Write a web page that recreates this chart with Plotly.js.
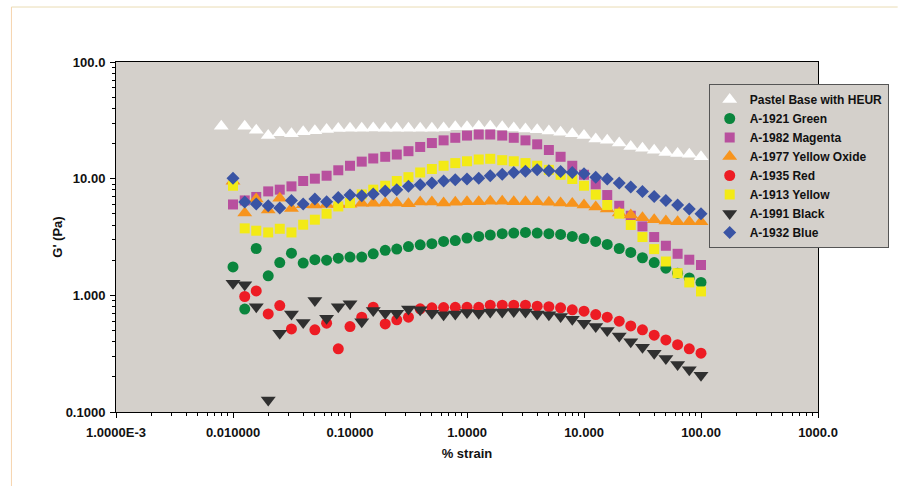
<!DOCTYPE html>
<html>
<head>
<meta charset="utf-8">
<script src="https://cdn.plot.ly/plotly-3.0.1.min.js"></script>
<style>
  html, body { margin: 0; padding: 0; background: #ffffff; }
  #chart { width: 901px; height: 486px; }
</style>
</head>
<body>
<div id="chart"></div>
<script>
// % strain values (log spaced, 10 per decade)
const strain = [0.01, 0.0126, 0.0158, 0.02, 0.0251, 0.0316, 0.0398, 0.0501, 0.0631, 0.0794,
  0.1, 0.126, 0.158, 0.2, 0.251, 0.316, 0.398, 0.501, 0.631, 0.794,
  1, 1.26, 1.58, 2, 2.51, 3.16, 3.98, 5.01, 6.31, 7.94,
  10, 12.6, 15.8, 20, 25.1, 31.6, 39.8, 50.1, 63.1, 79.4, 100];
const strainBase = [0.00794, 0.0126, 0.0158, 0.02, 0.0251, 0.0316, 0.0398, 0.0501, 0.0631, 0.0794,
  0.1, 0.126, 0.158, 0.2, 0.251, 0.316, 0.398, 0.501, 0.631, 0.794,
  1, 1.26, 1.58, 2, 2.51, 3.16, 3.98, 5.01, 6.31, 7.94,
  10, 12.6, 15.8, 20, 25.1, 31.6, 39.8, 50.1, 63.1, 79.4, 100];

const seriesNames = ["Pastel Base with HEUR", "A-1921 Green", "A-1982 Magenta", "A-1977 Yellow Oxide",
  "A-1935 Red", "A-1913 Yellow", "A-1991 Black", "A-1932 Blue"];

const pastelBase = [28.1, 28.1, 26.0, 23.4, 24.8, 24.3, 25.3, 25.8, 26.4, 26.9,
  27.0, 27.0, 27.2, 27.0, 27.0, 27.0, 27.0, 27.0, 27.2, 27.8,
  27.8, 28.1, 28.1, 27.8, 27.2, 26.7, 26.3, 25.6, 25.0, 24.3,
  23.4, 21.9, 21.3, 20.2, 18.9, 18.2, 17.5, 16.8, 16.4, 16.2, 15.4];
const green = [1.75, 0.762, 2.52, 1.47, 1.91, 2.30, 1.89, 2.02, 2.0, 2.08,
  2.13, 2.13, 2.27, 2.43, 2.49, 2.62, 2.71, 2.77, 2.9, 2.95,
  3.10, 3.2, 3.29, 3.38, 3.42, 3.46, 3.42, 3.38, 3.33, 3.2,
  3.07, 2.9, 2.73, 2.52, 2.33, 2.1, 1.91, 1.71, 1.55, 1.41, 1.29];
const magenta = [6.01, 6.51, 6.97, 7.78, 8.05, 8.59, 9.55, 10.0, 10.6, 11.8,
  12.9, 14.0, 14.9, 15.4, 16.1, 17.2, 18.7, 20.2, 21.3, 22.4,
  23.4, 23.9, 23.9, 23.4, 22.4, 21.3, 19.7, 17.6, 15.4, 12.9,
  10.8, 8.93, 7.24, 5.86, 4.81, 3.90, 3.16, 2.66, 2.27, 2.02, 1.82];
const yellowOxide = [9.5, 5.08, 6.7, 5.4, 6.8, 5.56, 5.98, 5.95, 6.0, 6.0,
  6.05, 6.15, 6.15, 6.2, 6.2, 6.1, 6.3, 6.3, 6.2, 6.28,
  6.35, 6.35, 6.4, 6.4, 6.35, 6.35, 6.35, 6.28, 6.2, 6.13,
  5.95, 5.71, 5.49, 5.08, 4.88, 4.63, 4.45, 4.33, 4.27, 4.27, 4.27];
const red = [null, 0.977, 1.09, 0.693, 0.817, 0.515, null, 0.506, 0.577, 0.348,
  0.540, 0.65, 0.792, 0.569, 0.617, 0.65, 0.766, 0.782, 0.785, 0.79,
  0.79, 0.79, 0.824, 0.824, 0.824, 0.824, 0.808, 0.80, 0.782, 0.752,
  0.731, 0.684, 0.65, 0.601, 0.547, 0.506, 0.455, 0.415, 0.378, 0.348, 0.319];
const yellow = [8.7, 3.75, 3.58, 3.46, 3.72, 3.46, 4.03, 4.45, 5.01, 5.78,
  6.18, 7.33, 8.05, 8.7, 9.55, 10.3, 11.3, 12.1, 12.9, 13.6,
  14.1, 14.6, 14.8, 14.4, 14.1, 13.6, 12.9, 11.9, 10.8, 9.93,
  8.7, 7.29, 5.95, 5.01, 4.01, 3.16, 2.49, 1.95, 1.55, 1.29, 1.08];
const black = [1.27, 1.23, 0.80, 0.127, 0.474, 0.693, 0.585, 0.902, 0.637, 0.80,
  0.846, 0.593, 0.740, 0.703, 0.703, 0.762, 0.752, 0.703, 0.68, 0.693,
  0.712, 0.703, 0.718, 0.718, 0.726, 0.718, 0.693, 0.68, 0.658, 0.625,
  0.577, 0.54, 0.499, 0.449, 0.401, 0.359, 0.319, 0.287, 0.255, 0.23, 0.207];
const blue = [10.1, 6.3, 6.07, 5.87, 5.6, 6.51, 6.07, 6.7, 6.35, 6.9,
  7.24, 7.14, 7.39, 7.84, 8.05, 8.59, 8.88, 9.18, 9.55, 9.8,
  9.93, 10.1, 10.6, 10.9, 11.3, 11.6, 11.9, 11.7, 11.5, 11.3,
  11.0, 10.3, 9.93, 9.18, 8.49, 7.78, 7.05, 6.51, 5.95, 5.49, 5.01];

const xTickVals = [0.001, 0.01, 0.1, 1, 10, 100, 1000];
const xTickText = ["1.0000E-3", "0.010000", "0.10000", "1.0000", "10.000", "100.00", "1000.0"];
const yTickVals = [0.1, 1, 10, 100];
const yTickText = ["0.1000", "1.000", "10.00", "100.0"];

function minorTicks(lo, hi) {
  const out = [];
  for (let e = lo; e < hi; e++) for (let m = 2; m <= 9; m++) out.push(m * Math.pow(10, e));
  return out;
}

const styles = [
  {x: strainBase, y: pastelBase, symbol: "triangle-up", color: "#ffffff", size: 13},
  {x: strain, y: green, symbol: "circle", color: "#0a853d", size: 11},
  {x: strain, y: magenta, symbol: "square", color: "#b8509e", size: 10},
  {x: strain, y: yellowOxide, symbol: "triangle-up", color: "#f7941d", size: 13},
  {x: strain, y: red, symbol: "circle", color: "#ed1c24", size: 11},
  {x: strain, y: yellow, symbol: "square", color: "#f3ea16", size: 10},
  {x: strain, y: black, symbol: "triangle-down", color: "#303030", size: 13},
  {x: strain, y: blue, symbol: "diamond", color: "#3a54a4", size: 10}
];

const traces = styles.map((s, i) => ({
  type: "scatter",
  mode: "markers",
  name: seriesNames[i],
  x: s.x,
  y: s.y,
  marker: {symbol: s.symbol, color: s.color, size: s.size, line: {width: 0}}
}));

const fontFam = "Liberation Sans, Arial, sans-serif";
const boldFont = {family: fontFam, size: 13, weight: "bold", color: "#111111"};
const legendFont = {family: fontFam, size: 12, weight: "bold", color: "#111111"};
const plotL = 116, plotR = 821, plotT = 62, plotB = 412;
const pw = plotR - plotL, ph = plotB - plotT;
const px = v => (v - plotL) / pw;
const py = v => (plotB - v) / ph;

const layout = {
  width: 901,
  height: 486,
  margin: {l: plotL, r: 901 - plotR, t: plotT, b: 486 - plotB, pad: 0},
  paper_bgcolor: "#ffffff",
  plot_bgcolor: "#d4d0cb",
  font: {family: fontFam, size: 13, color: "#111111"},
  showlegend: true,
  xaxis: {
    type: "log",
    range: [-3, 3],
    tickvals: xTickVals,
    ticktext: xTickText,
    ticks: "outside",
    ticklen: 5,
    tickwidth: 1,
    tickcolor: "#000",
    ticklabelstandoff: 3,
    minor: {tickvals: minorTicks(-3, 3), ticks: "outside", ticklen: 3, tickcolor: "#000", showgrid: false},
    showgrid: false,
    zeroline: false,
    showline: true,
    linecolor: "#000",
    linewidth: 1,
    mirror: true,
    tickfont: boldFont,
    title: {text: "% strain", font: boldFont, standoff: 10}
  },
  yaxis: {
    type: "log",
    range: [-1, 2],
    tickvals: yTickVals,
    ticktext: yTickText,
    ticks: "outside",
    ticklen: 5,
    tickwidth: 1,
    tickcolor: "#000",
    ticklabelstandoff: 2,
    minor: {tickvals: minorTicks(-1, 2), ticks: "outside", ticklen: 3, tickcolor: "#000", showgrid: false},
    showgrid: false,
    zeroline: false,
    showline: true,
    linecolor: "#000",
    linewidth: 1,
    mirror: true,
    tickfont: boldFont,
    title: {text: "G' (Pa)", font: boldFont, standoff: 0}
  },
  legend: {
    x: px(892),
    xanchor: "right",
    y: py(84),
    yanchor: "top",
    bgcolor: "#d4d0cb",
    bordercolor: "#555555",
    borderwidth: 1,
    font: legendFont,
    itemwidth: 30,
    tracegroupgap: 0
  },
  shapes: [
    {type: "line", xref: "paper", yref: "paper", x0: px(11), x1: px(11), y0: py(7), y1: py(486), line: {color: "#f6d4ae", width: 1}},
    {type: "line", xref: "paper", yref: "paper", x0: px(11), x1: px(901), y0: py(7), y1: py(7), line: {color: "#eadcb4", width: 1}}
  ]
};

Plotly.newPlot("chart", traces, layout, {displayModeBar: false, staticPlot: true});
</script>
</body>
</html>
